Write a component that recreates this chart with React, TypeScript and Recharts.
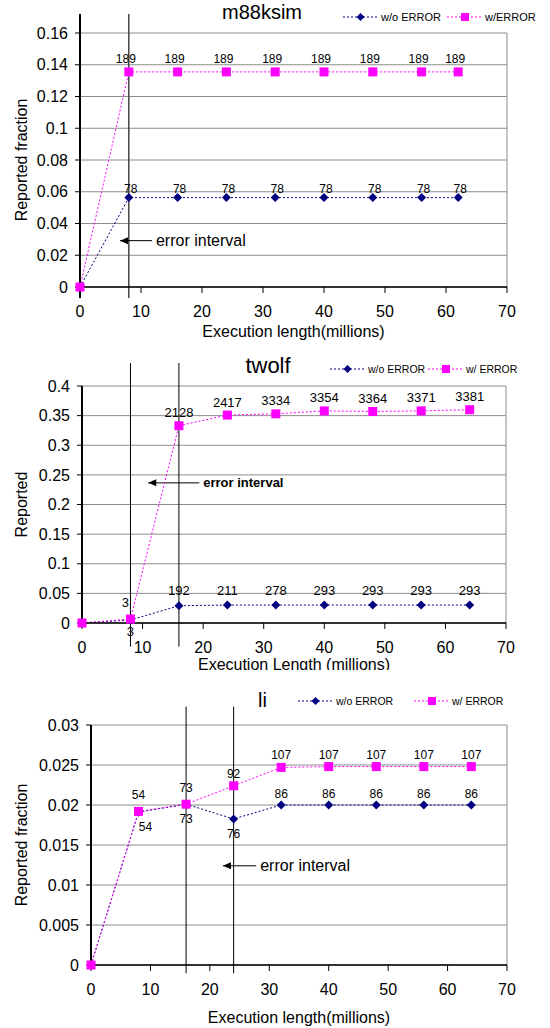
import React from 'react'
import { LineChart, Line, XAxis, YAxis, CartesianGrid, ReferenceLine, LabelList, Legend, Label } from 'recharts'

// m88ksim
const m88Length = [0, 8, 16, 24, 32, 40, 48, 56, 62]
const m88NoError = [0, 0.0563, 0.0563, 0.0563, 0.0563, 0.0563, 0.0563, 0.0563, 0.0563]
const m88WithError = [0, 0.1355, 0.1355, 0.1355, 0.1355, 0.1355, 0.1355, 0.1355, 0.1355]
const m88NoErrorCounts = [null, 78, 78, 78, 78, 78, 78, 78, 78]
const m88WithErrorCounts = [null, 189, 189, 189, 189, 189, 189, 189, 189]
const m88Ticks = [0, 0.02, 0.04, 0.06, 0.08, 0.1, 0.12, 0.14, 0.16]

// twolf
const twolfLength = [0, 8, 16, 24, 32, 40, 48, 56, 64]
const twolfNoError = [0, 0.005, 0.0292, 0.0303, 0.0303, 0.0303, 0.0303, 0.0303, 0.0303]
const twolfWithError = [0, 0.0067, 0.333, 0.351, 0.353, 0.358, 0.357, 0.358, 0.36]
const twolfNoErrorCounts = [null, 3, 192, 211, 278, 293, 293, 293, 293]
const twolfWithErrorCounts = [null, 3, 2128, 2417, 3334, 3354, 3364, 3371, 3381]
const twolfTicks = [0, 0.05, 0.1, 0.15, 0.2, 0.25, 0.3, 0.35, 0.4]

// li
const liLength = [0, 8, 16, 24, 32, 40, 48, 56, 64]
const liNoError = [0, 0.0191, 0.0201, 0.01826, 0.02, 0.02, 0.02, 0.02, 0.02]
const liWithError = [0, 0.0192, 0.0201, 0.0224, 0.0247, 0.0248, 0.0248, 0.0248, 0.0248]
const liNoErrorCounts = [null, 54, 73, 76, 86, 86, 86, 86, 86]
const liWithErrorCounts = [null, 54, 73, 92, 107, 107, 107, 107, 107]
const liTicks = [0, 0.005, 0.01, 0.015, 0.02, 0.025, 0.03]

const xTicks = [0, 10, 20, 30, 40, 50, 60, 70]

const NAVY = '#000080'
const PINK = '#ff00ff'
const GRID = '#8c8c8c'

const rows = (xs: number[], wo: number[], w: number[], woL: (number | null)[], wL: (number | null)[]) =>
  xs.map((x, i) => ({ x, wo: wo[i], w: w[i], woLabel: woL[i], wLabel: wL[i] }))

function Diamond(props: any) {
  const { cx, cy } = props
  if (cx == null || cy == null) return null
  const r = 4.5
  return <polygon points={`${cx},${cy - r} ${cx + r},${cy} ${cx},${cy + r} ${cx - r},${cy}`} fill={NAVY} />
}

function Square(props: any) {
  const { cx, cy } = props
  if (cx == null || cy == null) return null
  return <rect x={cx - 4.5} y={cy - 4.5} width={9} height={9} fill={PINK} />
}

function pointLabel(offset: (i: number) => [number, number], fontSize: number) {
  return (props: any) => {
    const { value, index } = props
    if (value == null || value === '') return null
    const x = props.x ?? props.viewBox?.x
    const y = props.y ?? props.viewBox?.y
    if (x == null || y == null) return null
    const [dx, dy] = offset(index)
    return (
      <text x={x + dx} y={y + dy} textAnchor="middle" dominantBaseline="central" fontSize={fontSize} fill="#000">
        {value}
      </text>
    )
  }
}

function arrowLabel(text: string, fontSize: number, bold: boolean) {
  return (props: any) => {
    const vb = props.viewBox
    if (!vb) return null
    const x1 = vb.x
    const x2 = vb.x + vb.width
    const y = vb.y
    return (
      <g>
        <polygon points={`${x1},${y} ${x1 + 8},${y - 3.5} ${x1 + 8},${y + 3.5}`} fill="#000" />
        <text x={x2 + 4} y={y} dominantBaseline="central" fontSize={fontSize} fontWeight={bold ? 'bold' : 'normal'} fill="#000">
          {text}
        </text>
      </g>
    )
  }
}

function legendContent(pinkAt: number, fontSize: number) {
  return (props: any) => (
    <div style={{ position: 'relative', height: 14 }}>
      {(props.payload ?? []).map((item: any) => {
        const isWo = item.dataKey === 'wo'
        return (
          <div
            key={item.dataKey}
            style={{ position: 'absolute', left: isWo ? 0 : pinkAt, top: 0, height: 14, display: 'flex', alignItems: 'center', whiteSpace: 'nowrap', fontSize, color: '#000' }}
          >
            <svg width={35} height={14}>
              <line x1={0} y1={7} x2={35} y2={7} stroke={isWo ? NAVY : PINK} strokeDasharray="2 2" />
              {isWo ? (
                <polygon points="17.5,3 21.5,7 17.5,11 13.5,7" fill={NAVY} />
              ) : (
                <rect x={14} y={3} width={8} height={8} fill={PINK} />
              )}
            </svg>
            <span style={{ marginLeft: 3 }}>{item.value}</span>
          </div>
        )
      })}
    </div>
  )
}

type PanelProps = {
  top: number
  boxHeight: number
  chartHeight: number
  margin: { top: number; right: number; bottom: number; left: number }
  yWidth: number
  xHeight: number
  data: any[]
  yTicks: number[]
  yLabel: string
  xLabel: string
  title: string
  titleX: number
  titleY: number
  titleSize: number
  woName: string
  wName: string
  legendLeft: number
  legendTop: number
  legendPinkAt: number
  legendSize: number
  labelSize: number
  woOffset: (i: number) => [number, number]
  wOffset: (i: number) => [number, number]
  extras: React.ReactNode
}

function Panel(p: PanelProps) {
  const yMax = p.yTicks[p.yTicks.length - 1]
  return (
    <div style={{ position: 'absolute', left: 0, top: p.top, width: 550, height: p.boxHeight, overflow: 'hidden', background: '#fff' }}>
      <LineChart width={550} height={p.chartHeight} data={p.data} margin={p.margin}>
        <CartesianGrid horizontal vertical={false} stroke={GRID} />
        <XAxis
          type="number"
          dataKey="x"
          domain={[0, 70]}
          ticks={xTicks}
          height={p.xHeight}
          tickSize={6}
          tickMargin={13}
          axisLine={{ stroke: '#000', strokeWidth: 1.5 }}
          tickLine={{ stroke: '#000' }}
          tick={{ fill: '#000', fontSize: 16 }}
        >
          <Label value={p.xLabel} position="insideBottom" offset={0} fill="#000" fontSize={16} />
        </XAxis>
        <YAxis
          type="number"
          domain={[0, yMax]}
          ticks={p.yTicks}
          width={p.yWidth}
          tickSize={5}
          tickMargin={7}
          axisLine={{ stroke: '#000', strokeWidth: 2 }}
          tickLine={{ stroke: '#000' }}
          tick={{ fill: '#000', fontSize: 16 }}
          tickFormatter={(v: number) => String(v)}
        >
          <Label value={p.yLabel} angle={-90} position="insideLeft" offset={21.5} fill="#000" fontSize={16} style={{ textAnchor: 'middle' }} />
        </YAxis>
        <ReferenceLine x={70} stroke={GRID} />
        {p.extras}
        <Legend
          layout="horizontal"
          verticalAlign="middle"
          align="center"
          content={legendContent(p.legendPinkAt, p.legendSize)}
          wrapperStyle={{ top: p.legendTop, left: p.legendLeft, width: 220, height: 14 }}
        />
        <Line
          dataKey="wo"
          name={p.woName}
          stroke={NAVY}
          strokeWidth={1}
          strokeDasharray="2 2"
          dot={<Diamond />}
          activeDot={false}
          isAnimationActive={false}
        >
          <LabelList dataKey="woLabel" content={pointLabel(p.woOffset, p.labelSize)} />
        </Line>
        <Line
          dataKey="w"
          name={p.wName}
          stroke={PINK}
          strokeWidth={1}
          strokeDasharray="2 2"
          dot={<Square />}
          activeDot={false}
          isAnimationActive={false}
        >
          <LabelList dataKey="wLabel" content={pointLabel(p.wOffset, p.labelSize)} />
        </Line>
      </LineChart>
      <div
        style={{
          position: 'absolute',
          left: p.titleX - 100,
          width: 200,
          top: p.titleY - p.titleSize * 0.59,
          fontSize: p.titleSize,
          lineHeight: 1.2,
          textAlign: 'center',
          color: '#000',
        }}
      >
        {p.title}
      </div>
    </div>
  )
}

export default function App() {
  return (
    <div style={{ position: 'absolute', left: 0, top: 0, width: 550, height: 1028, background: '#fff', fontFamily: '"Liberation Sans", Arial, sans-serif' }}>
      <Panel
        top={0}
        boxHeight={340}
        chartHeight={340}
        margin={{ top: 33, right: 43, bottom: 3, left: 0 }}
        yWidth={80}
        xHeight={50}
        data={rows(m88Length, m88NoError, m88WithError, m88NoErrorCounts, m88WithErrorCounts)}
        yTicks={m88Ticks}
        yLabel="Reported fraction"
        xLabel="Execution length(millions)"
        title="m88ksim"
        titleX={262}
        titleY={12}
        titleSize={20}
        woName="w/o ERROR"
        wName="w/ERROR"
        legendLeft={343}
        legendTop={10}
        legendPinkAt={104}
        legendSize={11}
        labelSize={12}
        woOffset={() => [2, -9]}
        wOffset={() => [-3, -13]}
        extras={[
          <ReferenceLine key="v0" segment={[{ x: 0, y: -0.0069 }, { x: 0, y: 0.172 }]} stroke="#000" strokeWidth={2} ifOverflow="visible" />,
          <ReferenceLine key="v8" segment={[{ x: 8, y: -0.0069 }, { x: 8, y: 0.172 }]} stroke="#444" strokeWidth={1.5} ifOverflow="visible" />,
          <ReferenceLine
            key="arrow"
            segment={[{ x: 6.56, y: 0.0292 }, { x: 11.8, y: 0.0292 }]}
            stroke="#000"
            ifOverflow="visible"
            label={arrowLabel('error interval', 16, false)}
          />,
        ]}
      />
      <Panel
        top={340}
        boxHeight={330}
        chartHeight={340}
        margin={{ top: 46, right: 44, bottom: 10, left: 0 }}
        yWidth={82}
        xHeight={47}
        data={rows(twolfLength, twolfNoError, twolfWithError, twolfNoErrorCounts, twolfWithErrorCounts)}
        yTicks={twolfTicks}
        yLabel="Reported"
        xLabel="Execution Length (millions)"
        title="twolf"
        titleX={268}
        titleY={26}
        titleSize={22}
        woName="w/o ERROR"
        wName="w/ ERROR"
        legendLeft={330}
        legendTop={22}
        legendPinkAt={98}
        legendSize={10.5}
        labelSize={13}
        woOffset={(i) => (i === 1 ? [-5, -18] : [0, -15])}
        wOffset={(i) => (i === 1 ? [0, 12] : [0, -13])}
        extras={[
          <ReferenceLine key="v8" segment={[{ x: 8, y: -0.04 }, { x: 8, y: 0.4388 }]} stroke="#000" strokeWidth={1} ifOverflow="visible" />,
          <ReferenceLine key="v16" segment={[{ x: 16, y: -0.04 }, { x: 16, y: 0.4388 }]} stroke="#000" strokeWidth={1} ifOverflow="visible" />,
          <ReferenceLine
            key="arrow"
            segment={[{ x: 10.94, y: 0.2365 }, { x: 19.36, y: 0.2365 }]}
            stroke="#000"
            ifOverflow="visible"
            label={arrowLabel('error interval', 13, true)}
          />,
        ]}
      />
      <Panel
        top={670}
        boxHeight={358}
        chartHeight={358}
        margin={{ top: 55, right: 43, bottom: 5, left: 0 }}
        yWidth={91}
        xHeight={58}
        data={rows(liLength, liNoError, liWithError, liNoErrorCounts, liWithErrorCounts)}
        yTicks={liTicks}
        yLabel="Reported fraction"
        xLabel="Execution length(millions)"
        title="li"
        titleX={262.5}
        titleY={30}
        titleSize={20}
        woName="w/o ERROR"
        wName="w/ ERROR"
        legendLeft={298}
        legendTop={24}
        legendPinkAt={116}
        legendSize={10.5}
        labelSize={12}
        woOffset={(i) => (i >= 1 && i <= 3 ? [i === 1 ? 7 : 0, 15] : [0, -11])}
        wOffset={(i) => (i <= 2 ? [0, -16] : [0, -12])}
        extras={[
          <ReferenceLine key="v16" segment={[{ x: 16, y: -0.00104 }, { x: 16, y: 0.0323 }]} stroke="#000" strokeWidth={1} ifOverflow="visible" />,
          <ReferenceLine key="v24" segment={[{ x: 24, y: -0.00104 }, { x: 24, y: 0.0323 }]} stroke="#000" strokeWidth={1} ifOverflow="visible" />,
          <ReferenceLine
            key="arrow"
            segment={[{ x: 22.2, y: 0.0124 }, { x: 27.8, y: 0.0124 }]}
            stroke="#000"
            ifOverflow="visible"
            label={arrowLabel('error interval', 16, false)}
          />,
        ]}
      />
    </div>
  )
}
